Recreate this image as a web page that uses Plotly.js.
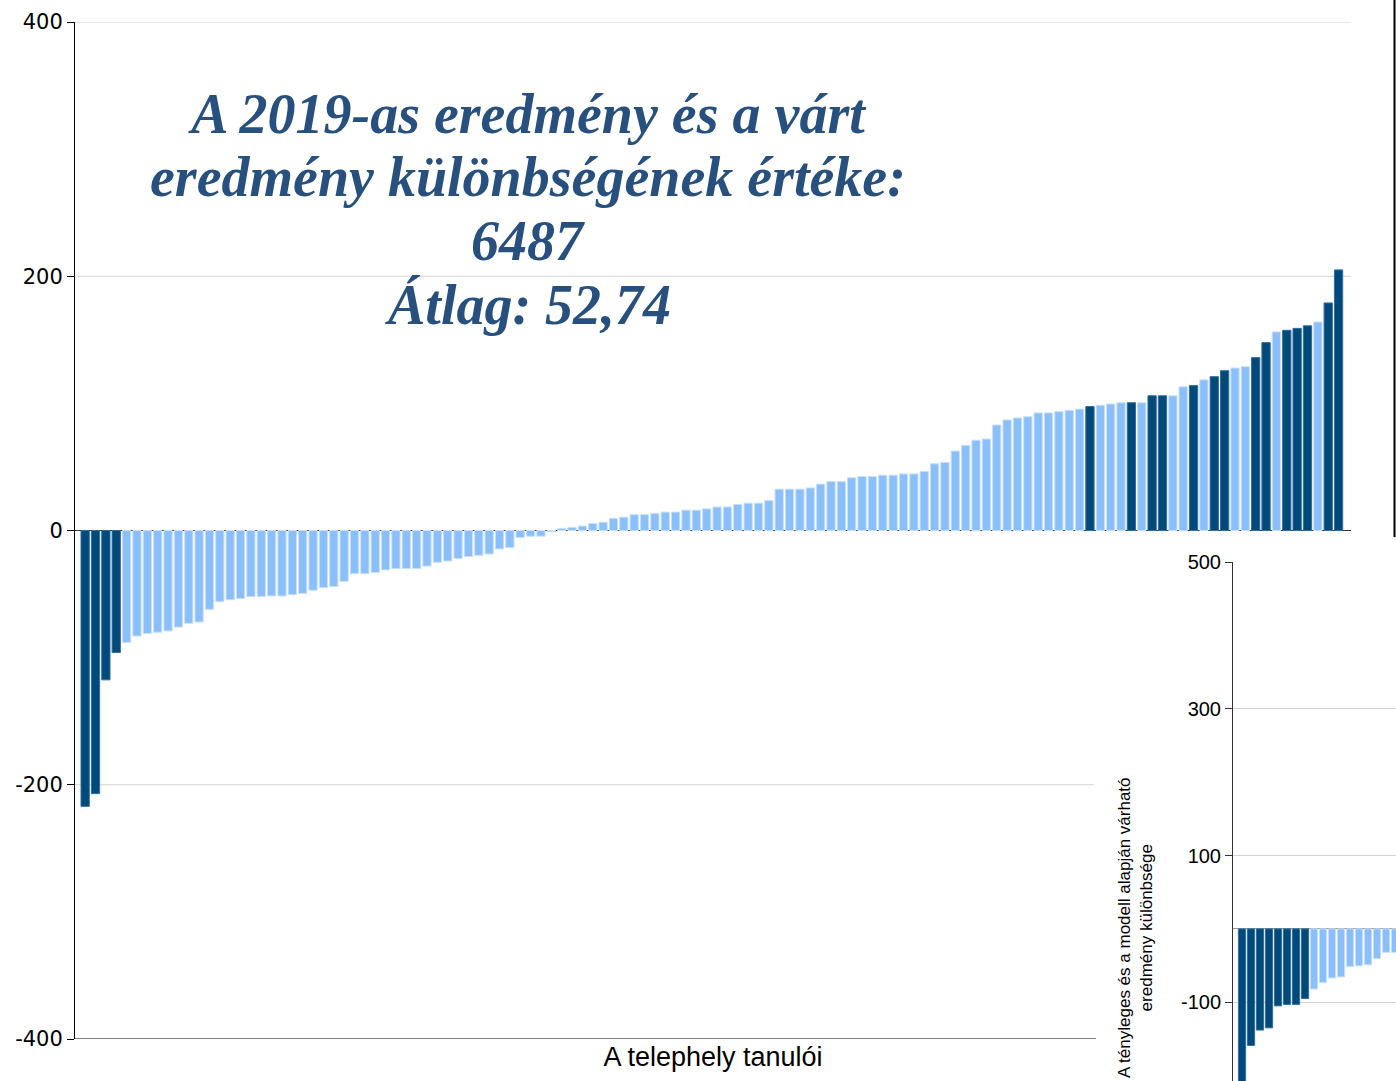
<!DOCTYPE html>
<html>
<head>
<meta charset="utf-8">
<script src="https://cdn.plot.ly/plotly-3.0.1.min.js"></script>
<style>html,body{margin:0;padding:0;background:#fff;}#chart{width:1396px;height:1081px;}</style>
</head>
<body>
<div id="chart"></div>
<script>
// Main chart: difference between actual 2019 result and expected result, per student (sorted)
const kulonbseg = [
  -217, -207, -117.5, -96, -88, -83, -81, -80, -79, -76,
  -73, -72, -62, -56, -54.5, -53.5, -52, -52, -51.5, -51.5,
  -50.5, -49.5, -47, -45, -44, -40, -34, -34, -33, -31,
  -30, -30, -30, -28, -25, -24, -22, -20.5, -19.5, -18.5,
  -14.5, -13.5, -5.5, -4.5, -4.5, -1, 1.5, 2.5, 3.5, 5.5,
  6.5, 9.5, 10.5, 12.5, 12.5, 13.5, 14.5, 14.5, 16, 16,
  17, 18.5, 18.5, 20.5, 21.5, 21.5, 23.5, 32.5, 32.5, 32.5,
  33.5, 36.5, 38.5, 38.5, 41.5, 42.5, 42.5, 43.5, 43.5, 44.5,
  44.5, 46.5, 52.5, 53.5, 62.5, 67, 71, 72, 83, 87,
  88.5, 89.5, 92.5, 92.5, 93.5, 94.5, 95.5, 97.5, 98.5, 99.5,
  100.5, 100.5, 100.5, 106, 106, 106, 113, 114, 118.5, 121,
  125.7, 127.8, 128.9, 136, 147.8, 156.2, 157.5, 159, 161, 164,
  179, 205
];
// 1 = highlighted (dark) student, 0 = other (light)
const kiemelt = [
  1,1,1,1,0,0,0,0,0,0, 0,0,0,0,0,0,0,0,0,0,
  0,0,0,0,0,0,0,0,0,0, 0,0,0,0,0,0,0,0,0,0,
  0,0,0,0,0,0,0,0,0,0, 0,0,0,0,0,0,0,0,0,0,
  0,0,0,0,0,0,0,0,0,0, 0,0,0,0,0,0,0,0,0,0,
  0,0,0,0,0,0,0,0,0,0, 0,0,0,0,0,0,0,1,0,0,
  0,1,0,1,1,0,0,1,0,1, 1,0,0,1,1,0,1,1,1,0,
  1,1
];
const yTicks = [-400, -200, 0, 200, 400];

// Inset chart (partially visible, pasted over the lower right corner)
const betetErtekek = [-230, -159, -138, -135, -105, -103, -103, -95, -82, -73, -67, -65.5, -51.5, -50.5, -49, -40.5, -32, -32];
const betetKiemelt = [1,1,1,1,1,1,1,1,0,0,0,0,0,0,0,0,0,0];
const betetTicks = [-100, 100, 300, 500];

const cimSorok = ['A 2019-as eredmény és a várt', 'eredmény különbségének értéke:', '6487', 'Átlag: 52,74'];
const xCim = 'A telephely tanulói';
const betetYCim = ['A tényleges és a modell alapján várható', 'eredmény különbsége'];

const DARK = '#00497a', LIGHT = '#8bbff9';
const W = 1396, H = 1081;
const px = v => v / W;
const py = v => 1 - v / H;

const xs = kulonbseg.map((_, i) => i);
const bx = betetErtekek.map((_, i) => i);

const traces = [
  {
    type: 'bar', x: xs, y: kulonbseg, xaxis: 'x', yaxis: 'y',
    marker: {color: kiemelt.map(k => k ? DARK : LIGHT),
             line: {width: 1, color: kiemelt.map(k => k ? '#2f6f9e' : '#c9e0fc')}},
    hoverinfo: 'y', showlegend: false
  },
  {
    type: 'bar', x: bx, y: betetErtekek, xaxis: 'x2', yaxis: 'y2',
    marker: {color: betetKiemelt.map(k => k ? DARK : LIGHT),
             line: {width: 1, color: betetKiemelt.map(k => k ? '#2f6f9e' : '#c9e0fc')}},
    hoverinfo: 'y', showlegend: false
  }
];

const titleCenters = [113, 177, 241, 305];
const titleFont = {family: 'Liberation Serif', size: 56, color: '#27507f'};

const layout = {
  width: W, height: H,
  margin: {l: 0, r: 0, t: 0, b: 0},
  paper_bgcolor: '#ffffff', plot_bgcolor: 'rgba(0,0,0,0)',
  bargap: 0.2,
  showlegend: false,
  title: {
    text: '<b><i>' + cimSorok[0] + '</i></b>',
    x: px(528), xanchor: 'center', xref: 'container',
    y: py(titleCenters[0]), yanchor: 'middle', yref: 'container',
    font: titleFont
  },
  xaxis: {
    domain: [px(75), px(1351)], range: [-0.98, 122.2],
    showgrid: false, zeroline: false, showline: false, ticks: '', showticklabels: false,
    title: {text: xCim, standoff: 8, font: {family: 'Liberation Sans', size: 27, color: '#000'}},
    automargin: false, fixedrange: true
  },
  yaxis: {
    domain: [py(1039), py(22)], range: [-400, 400],
    tickvals: yTicks, ticktext: yTicks.map(String),
    showgrid: false, zeroline: true, zerolinecolor: '#333', zerolinewidth: 1.5,
    showline: true, linecolor: '#000', linewidth: 1,
    ticks: 'outside', ticklen: 7, tickcolor: '#000',
    tickfont: {family: 'DejaVu Sans', size: 21, color: '#000'},
    automargin: false, fixedrange: true
  },
  xaxis2: {
    domain: [px(1233), 1], range: [-1, 17.1], anchor: 'y2',
    showgrid: false, zeroline: false, showline: false, ticks: '', showticklabels: false,
    automargin: false, fixedrange: true
  },
  yaxis2: {
    domain: [0, py(562)], range: [-207.5, 500.5], anchor: 'x2',
    tickvals: betetTicks, ticktext: betetTicks.map(String),
    showgrid: true, gridcolor: '#d4d4d4', gridwidth: 1,
    zeroline: true, zerolinecolor: '#9a9a9a', zerolinewidth: 1,
    showline: true, linecolor: '#333', linewidth: 1,
    ticks: 'outside', ticklen: 7, tickcolor: '#333',
    tickfont: {family: 'Liberation Sans', size: 20, color: '#000'},
    automargin: false, fixedrange: true
  },
  shapes: [
    {type: 'line', layer: 'below', xref: 'paper', yref: 'y', x0: px(75), x1: px(1351), y0: 400, y1: 400, line: {color: '#d4d4d4', width: 1}},
    {type: 'line', layer: 'below', xref: 'paper', yref: 'y', x0: px(75), x1: px(1351), y0: 200, y1: 200, line: {color: '#d4d4d4', width: 1}},
    {type: 'line', layer: 'below', xref: 'paper', yref: 'y', x0: px(75), x1: px(1094), y0: -200, y1: -200, line: {color: '#d4d4d4', width: 1}},
    {type: 'line', layer: 'above', xref: 'paper', yref: 'y', x0: px(75), x1: px(1096), y0: -400, y1: -400, line: {color: '#000', width: 1.2}},
    {type: 'line', layer: 'above', xref: 'paper', yref: 'paper', x0: px(1394.5), x1: px(1394.5), y0: py(537), y1: 1, line: {color: '#000', width: 2}}
  ],
  annotations: [
    ...cimSorok.slice(1).map((s, i) => ({
      xref: 'paper', yref: 'paper', x: px(528), y: py(titleCenters[i + 1]),
      xanchor: 'center', yanchor: 'middle', showarrow: false,
      text: '<b><i>' + s + '</i></b>', font: titleFont
    })),
    {
      xref: 'paper', yref: 'paper', x: px(1135), y: py(928), xanchor: 'center', yanchor: 'middle',
      textangle: -90, showarrow: false,
      text: betetYCim.join('<br>'),
      font: {family: 'Liberation Sans', size: 17, color: '#000'}
    }
  ]
};

Plotly.newPlot('chart', traces, layout, {displayModeBar: false, staticPlot: true});
</script>
</body>
</html>
